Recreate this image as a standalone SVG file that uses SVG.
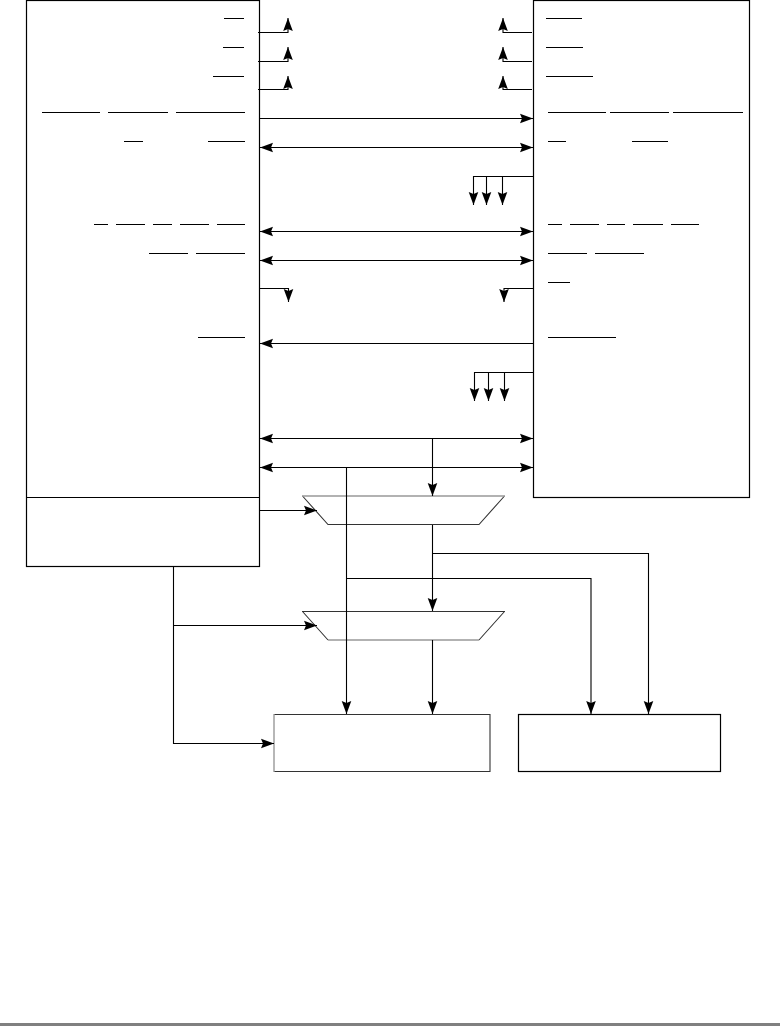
<svg xmlns="http://www.w3.org/2000/svg" width="780" height="1026" viewBox="0 0 780 1026">
<style>
.box{fill:none;stroke:#000;stroke-width:1.2}
.ov{stroke:#000;stroke-width:1;fill:none}
.c{fill:none;stroke:#000;stroke-width:1.1}
.a{marker-end:url(#ah)}
.b{marker-end:url(#ah);marker-start:url(#ahs)}
.g{stroke:#999;stroke-width:1.4;fill:none}
.d{stroke:#333;stroke-width:1.1;fill:none}
</style>
<defs>
<marker id="ah" markerUnits="userSpaceOnUse" markerWidth="15" markerHeight="12" refX="13" refY="6" orient="auto"><path d="M13,6 L0,1.2 L2,6 L0,10.8 z" fill="#000"/></marker>
<marker id="ahs" markerUnits="userSpaceOnUse" markerWidth="15" markerHeight="12" refX="13" refY="6" orient="auto-start-reverse"><path d="M13,6 L0,1.2 L2,6 L0,10.8 z" fill="#000"/></marker>
</defs>
<rect width="780" height="1026" fill="#fff"/>
<g id="left-block">
<rect class="box" x="26.5" y="0.5" width="233" height="566"/>
<path class="box" d="M26.5 497.5H259.5"/>
<path class="ov" d="M224 18.5H244M223 47.5H244M213 76.5H244M42 112.5H100M108 112.5H168M176 112.5H245M124 141.5H143M208 141.5H245M94 224.5H108M116 224.5H145M153 224.5H172M180 224.5H209M217 224.5H245M149 253.5H188M196 253.5H245M198 337.5H245"/>
</g>
<g id="right-block">
<rect class="box" x="533.5" y="0.5" width="216" height="497"/>
<path class="ov" d="M546 18.5H582M546 47.5H583M546 76.5H593M548 112.5H606M610 112.5H669M673 112.5H743M548 141.5H566M632 141.5H668M548 224.5H562M570 224.5H599M607 224.5H625M633 224.5H663M671 224.5H699M548 253.5H587M595 253.5H644M548 282.5H570M548 337.5H616"/>
</g>
<g id="mux-1">
<path class="d" d="M302.5 496 L328 524.5 H479 L504.5 496"/>
<path class="g" d="M302 496H505"/>
</g>
<g id="mux-2">
<path class="d" d="M302.5 611.5 L328 640 M479 640 L504.5 611.5 M302 611.5H505"/>
<path class="g" d="M328 640H479"/>
</g>
<g id="block-a">
<path class="d" d="M274 714.5H490V771.5H274"/>
<path class="g" d="M274 714V772"/>
</g>
<g id="block-b">
<rect class="box" x="518.5" y="714.5" width="202" height="57"/>
</g>
<g id="connectors">
<path class="c a" d="M258 32.5H288V18"/>
<path class="c a" d="M258 61.5H288V47"/>
<path class="c a" d="M258 89.5H288V76"/>
<path class="c a" d="M532 32.5H503V18"/>
<path class="c a" d="M532 61.5H503V47"/>
<path class="c a" d="M532 89.5H503V76"/>
<path class="c a" d="M260 118.5H533"/>
<path class="c b" d="M260 147.5H533"/>
<path class="c a" d="M533 176.5H473.5V205"/>
<path class="c a" d="M486.5 176.5V205"/>
<path class="c a" d="M502.5 176.5V205"/>
<path class="c b" d="M260 231.5H533"/>
<path class="c b" d="M260 260.5H533"/>
<path class="c a" d="M260 288.5H288.5V302"/>
<path class="c a" d="M533 288.5H504V302"/>
<path class="c a" d="M533 343.5H260"/>
<path class="c a" d="M533 372.5H474.5V401"/>
<path class="c a" d="M488.5 372.5V401"/>
<path class="c a" d="M504.5 372.5V401"/>
<path class="c b" d="M260 438.5H533"/>
<path class="c b" d="M260 467.5H533"/>
<path class="c a" d="M432.5 438.5V496"/>
<path class="c a" d="M346.5 467.5V714"/>
<path class="c a" d="M260 510.5H317"/>
<path class="c a" d="M432.5 525V611"/>
<path class="c a" d="M432.5 553.5H648.5V714"/>
<path class="c a" d="M346.5 578.5H591V714"/>
<path class="c a" d="M432.5 640V714"/>
<path class="c a" d="M173.5 566V743.5H274"/>
<path class="c a" d="M173.5 625.5H317"/>
</g>
<rect id="page-edge" x="0" y="1023" width="780" height="3" fill="#808080"/>
</svg>
